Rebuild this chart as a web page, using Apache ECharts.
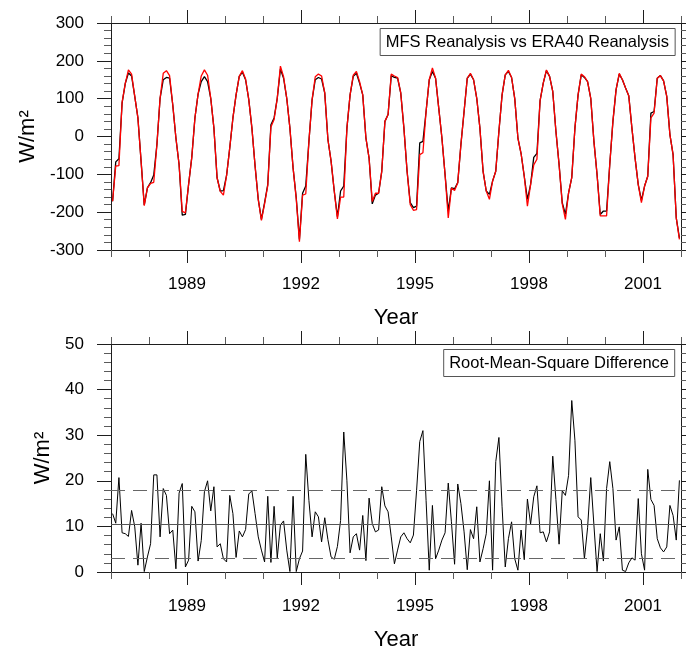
<!DOCTYPE html>
<html>
<head>
<meta charset="utf-8">
<script src="https://cdn.jsdelivr.net/npm/echarts@6/dist/echarts.min.js"></script>
<style>
  html, body { margin: 0; padding: 0; background: #ffffff; }
  #chart { width: 686px; height: 648px; }
</style>
</head>
<body>
<div id="chart"></div>
<script>
// Monthly series, January 1987 to December 2001 (one value per month, plotted mid-month)
const startYear = 1987;
const endYear = 2002;
const majorYears = [1989, 1992, 1995, 1998, 2001];
const minorYears = [1987, 1988, 1990, 1991, 1993, 1994, 1996, 1997, 1999, 2000, 2002];

// Net surface heat flux, MFS reanalysis (W/m2)
const mfsFlux = [
  -171, -67, -59, 88, 140, 168, 160, 106, 49, -65, -181, -136,      // 1987
  -122, -102, -21, 101, 150, 156, 154, 84, -4, -74, -208, -206,     // 1988
  -127, -56, 49, 112, 145, 158, 145, 101, 22, -109, -144, -143,     // 1989
  -103, -30, 49, 110, 159, 170, 150, 98, 22, -78, -166, -219,       // 1990
  -175, -127, 31, 49, 101, 178, 154, 101, 22, -83, -162, -272,      // 1991
  -150, -131, -13, 97, 150, 156, 152, 115, -8, -65, -144, -212,     // 1992
  -144, -131, 22, 110, 159, 167, 141, 110, -4, -57, -178, -155,     // 1993
  -150, -92, 40, 58, 161, 156, 154, 115, 22, -92, -175, -188,       // 1994
  -184, -17, -13, 66, 150, 172, 154, 75, -4, -101, -197, -136,      // 1995
  -138, -122, -21, 66, 154, 165, 150, 101, 22, -92, -144, -153,     // 1996
  -118, -92, 14, 110, 163, 172, 156, 100, -4, -45, -105, -166,      // 1997
  -127, -55, -45, 95, 141, 174, 159, 119, 14, -74, -175, -206,      // 1998
  -149, -109, 22, 110, 163, 156, 145, 101, -13, -101, -206, -197,   // 1999
  -197, -74, 40, 124, 165, 150, 128, 108, 22, -57, -127, -169,      // 2000
  -131, -105, 62, 66, 154, 161, 147, 106, 5, -48, -215, -268        // 2001
];

// Net surface heat flux, ERA40 reanalysis (W/m2)
const era40Flux = [
  -171, -78, -77, 90, 140, 176, 165, 106, 49, -65, -183, -136,      // 1987
  -124, -121, -21, 101, 167, 174, 161, 84, -4, -74, -198, -202,     // 1988
  -127, -56, 49, 112, 160, 176, 162, 101, 22, -109, -145, -155,     // 1989
  -103, -30, 49, 110, 159, 174, 152, 98, 22, -78, -166, -222,       // 1990
  -178, -130, 25, 45, 101, 186, 158, 101, 22, -83, -165, -278,      // 1991
  -155, -152, -13, 97, 158, 165, 160, 115, -8, -65, -144, -218,     // 1992
  -160, -160, 22, 110, 162, 172, 145, 110, -4, -57, -172, -150,     // 1993
  -150, -92, 40, 58, 165, 160, 156, 115, 22, -92, -180, -195,       // 1994
  -193, -48, -43, 66, 150, 181, 154, 75, -4, -101, -215, -136,      // 1995
  -143, -122, -21, 66, 154, 167, 150, 101, 22, -92, -144, -166,     // 1996
  -118, -92, 14, 110, 163, 175, 156, 100, -4, -45, -105, -184,      // 1997
  -127, -75, -60, 95, 141, 176, 159, 119, 14, -74, -178, -219,      // 1998
  -149, -109, 22, 110, 165, 158, 145, 101, -13, -101, -210, -210,   // 1999
  -210, -74, 40, 124, 167, 150, 128, 108, 22, -57, -127, -175,      // 2000
  -131, -105, 49, 62, 154, 161, 147, 106, 5, -48, -215, -272        // 2001
];

// Root-mean-square difference between the two reanalyses (W/m2)
const rmsDiff = [
  12.8, 10.7, 20.7, 8.6, 8.4, 7.8, 13.5, 9.9, 1.5, 10.7, 0.1, 3.3,      // 1987
  6.2, 21.3, 21.3, 7.7, 18.3, 16.8, 8.4, 9.2, 0.7, 17.3, 19.4, 1.1,     // 1988
  2.6, 14.4, 13.2, 2.4, 6.9, 17.6, 20.0, 13.4, 18.7, 5.5, 6.2, 2.9,     // 1989
  2.2, 16.8, 12.8, 3.2, 9.0, 7.7, 9.3, 17.1, 17.8, 12.8, 7.7, 4.8,      // 1990
  2.2, 16.6, 2.1, 14.4, 3.1, 10.3, 11.2, 4.8, 0.1, 16.6, 0.1, 2.9,      // 1991
  4.6, 25.8, 15.7, 7.7, 13.2, 12.1, 6.6, 11.9, 7.1, 3.3, 2.8, 5.6,      // 1992
  11.3, 30.7, 20.0, 4.2, 7.7, 8.4, 4.8, 12.4, 2.5, 16.2, 10.6, 8.8,     // 1993
  9.2, 18.7, 14.5, 13.2, 7.7, 1.8, 4.8, 7.7, 8.6, 7.3, 6.4, 8.1,        // 1994
  17.9, 28.6, 31.0, 15.7, 0.4, 14.6, 2.9, 4.8, 7.0, 8.6, 19.5, 11.0,    // 1995
  1.7, 19.3, 15.0, 8.8, 0.5, 9.3, 7.3, 14.3, 2.2, 5.1, 8.4, 20.0,       // 1996
  0.4, 24.2, 29.5, 14.3, 1.1, 7.3, 11.0, 2.9, 0.4, 9.2, 2.7, 16.0,      // 1997
  10.5, 16.5, 18.9, 8.6, 8.8, 6.6, 8.8, 25.4, 15.9, 6.1, 17.8, 16.8,    // 1998
  21.2, 37.6, 28.9, 12.1, 11.4, 2.9, 9.7, 20.7, 10.3, 0.1, 8.4, 2.4,    // 1999
  18.3, 24.2, 18.3, 7.0, 9.9, 0.4, 0.1, 2.0, 3.1, 2.6, 16.1, 4.0,       // 2000
  0.4, 22.5, 15.9, 14.6, 7.3, 5.3, 4.4, 5.5, 14.6, 12.4, 7.0, 20.1      // 2001
];

// Mean of the RMS difference and mean plus/minus one standard deviation
const rmsMean = 10.5;
const rmsUpper = 17.9;
const rmsLower = 3.1;

const FONT = '"Liberation Sans", Arial, Helvetica, sans-serif';
const INK = '#1e1e1e';
const MINOR_INK = '#5a5a5a';

function monthlyPoints(values) {
  return values.map((v, i) => [startYear + (i + 0.5) / 12, v]);
}

function xAxesFor(gridIndex) {
  const base = {
    gridIndex: gridIndex,
    type: 'value',
    min: startYear,
    max: endYear,
    interval: 1,
    splitLine: { show: false },
    axisLine: { show: true, onZero: false, lineStyle: { color: INK, width: 1 } }
  };
  const majorTick = { show: true, customValues: majorYears, length: 13, lineStyle: { color: INK, width: 1 } };
  const minorTick = { show: true, customValues: minorYears, length: 7, lineStyle: { color: MINOR_INK, width: 1 } };
  return [
    Object.assign({}, base, {
      position: 'bottom',
      name: 'Year',
      nameLocation: 'middle',
      nameGap: 57,
      nameTextStyle: { fontFamily: FONT, fontSize: 22, color: '#000' },
      axisTick: majorTick,
      axisLabel: {
        show: true,
        customValues: majorYears,
        margin: 26,
        fontFamily: FONT,
        fontSize: 17,
        color: '#000',
        formatter: function (v) { return String(Math.round(v)); }
      }
    }),
    Object.assign({}, base, { position: 'bottom', axisTick: minorTick, axisLabel: { show: false } }),
    Object.assign({}, base, { position: 'top', axisTick: majorTick, axisLabel: { show: false } }),
    Object.assign({}, base, { position: 'top', axisTick: minorTick, axisLabel: { show: false } })
  ];
}

function yAxesFor(gridIndex, min, max, interval, nameGap) {
  const base = {
    gridIndex: gridIndex,
    type: 'value',
    min: min,
    max: max,
    interval: interval,
    splitLine: { show: false },
    axisLine: { show: true, onZero: false, lineStyle: { color: INK, width: 1 } },
    axisTick: { show: true, length: 14, lineStyle: { color: INK, width: 1 } },
    minorTick: { show: true, splitNumber: 5, length: 7, lineStyle: { color: MINOR_INK, width: 1 } },
    minorSplitLine: { show: false }
  };
  return [
    Object.assign({}, base, {
      position: 'left',
      name: 'W/m\u00B2',
      nameLocation: 'middle',
      nameGap: nameGap,
      nameTextStyle: { fontFamily: FONT, fontSize: 22, color: '#000' },
      axisLabel: { show: true, margin: 27, fontFamily: FONT, fontSize: 17, color: '#000' }
    }),
    Object.assign({}, base, { position: 'right', axisLabel: { show: false } })
  ];
}

const boxStyle = {
  borderColor: '#555',
  borderWidth: 1,
  padding: [5, 6],
  backgroundColor: '#fff',
  textStyle: { fontFamily: FONT, fontSize: 16.5, fontWeight: 'normal', color: '#000', lineHeight: 18 }
};

const chart = echarts.init(document.getElementById('chart'), null, { renderer: 'canvas' });

chart.setOption({
  animation: false,
  backgroundColor: '#ffffff',
  textStyle: { fontFamily: FONT },
  title: [
    Object.assign({ text: 'MFS Reanalysis vs ERA40 Reanalysis', right: 11, top: 28 }, boxStyle),
    Object.assign({ text: 'Root-Mean-Square Difference', right: 11, top: 349 }, boxStyle)
  ],
  grid: [
    { left: 111, top: 23, width: 570, height: 227, containLabel: false, outerBoundsMode: 'none' },
    { left: 111, top: 344, width: 570, height: 228, containLabel: false, outerBoundsMode: 'none' }
  ],
  xAxis: xAxesFor(0).concat(xAxesFor(1)),
  yAxis: yAxesFor(0, -300, 300, 100, 72).concat(yAxesFor(1, 0, 50, 10, 57)),
  series: [
    {
      name: 'MFS',
      type: 'line',
      xAxisIndex: 0,
      yAxisIndex: 0,
      data: monthlyPoints(mfsFlux),
      showSymbol: false,
      symbol: 'none',
      lineStyle: { color: '#000000', width: 1.3 },
      z: 3
    },
    {
      name: 'ERA40',
      type: 'line',
      xAxisIndex: 0,
      yAxisIndex: 0,
      data: monthlyPoints(era40Flux),
      showSymbol: false,
      symbol: 'none',
      lineStyle: { color: '#ff0000', width: 1.3 },
      z: 4
    },
    {
      name: 'RMS',
      type: 'line',
      xAxisIndex: 4,
      yAxisIndex: 2,
      data: monthlyPoints(rmsDiff),
      showSymbol: false,
      symbol: 'none',
      lineStyle: { color: '#000000', width: 1 },
      z: 4,
      markLine: {
        silent: true,
        symbol: ['none', 'none'],
        label: { show: false },
        lineStyle: { color: '#555555', width: 1 },
        data: [
          { yAxis: rmsMean, lineStyle: { type: 'solid', color: '#555555', width: 1 } },
          { yAxis: rmsUpper, lineStyle: { type: [14, 8], color: '#666666', width: 1 } },
          { yAxis: rmsLower, lineStyle: { type: [14, 8], color: '#666666', width: 1 } }
        ]
      }
    }
  ]
});
</script>
</body>
</html>
